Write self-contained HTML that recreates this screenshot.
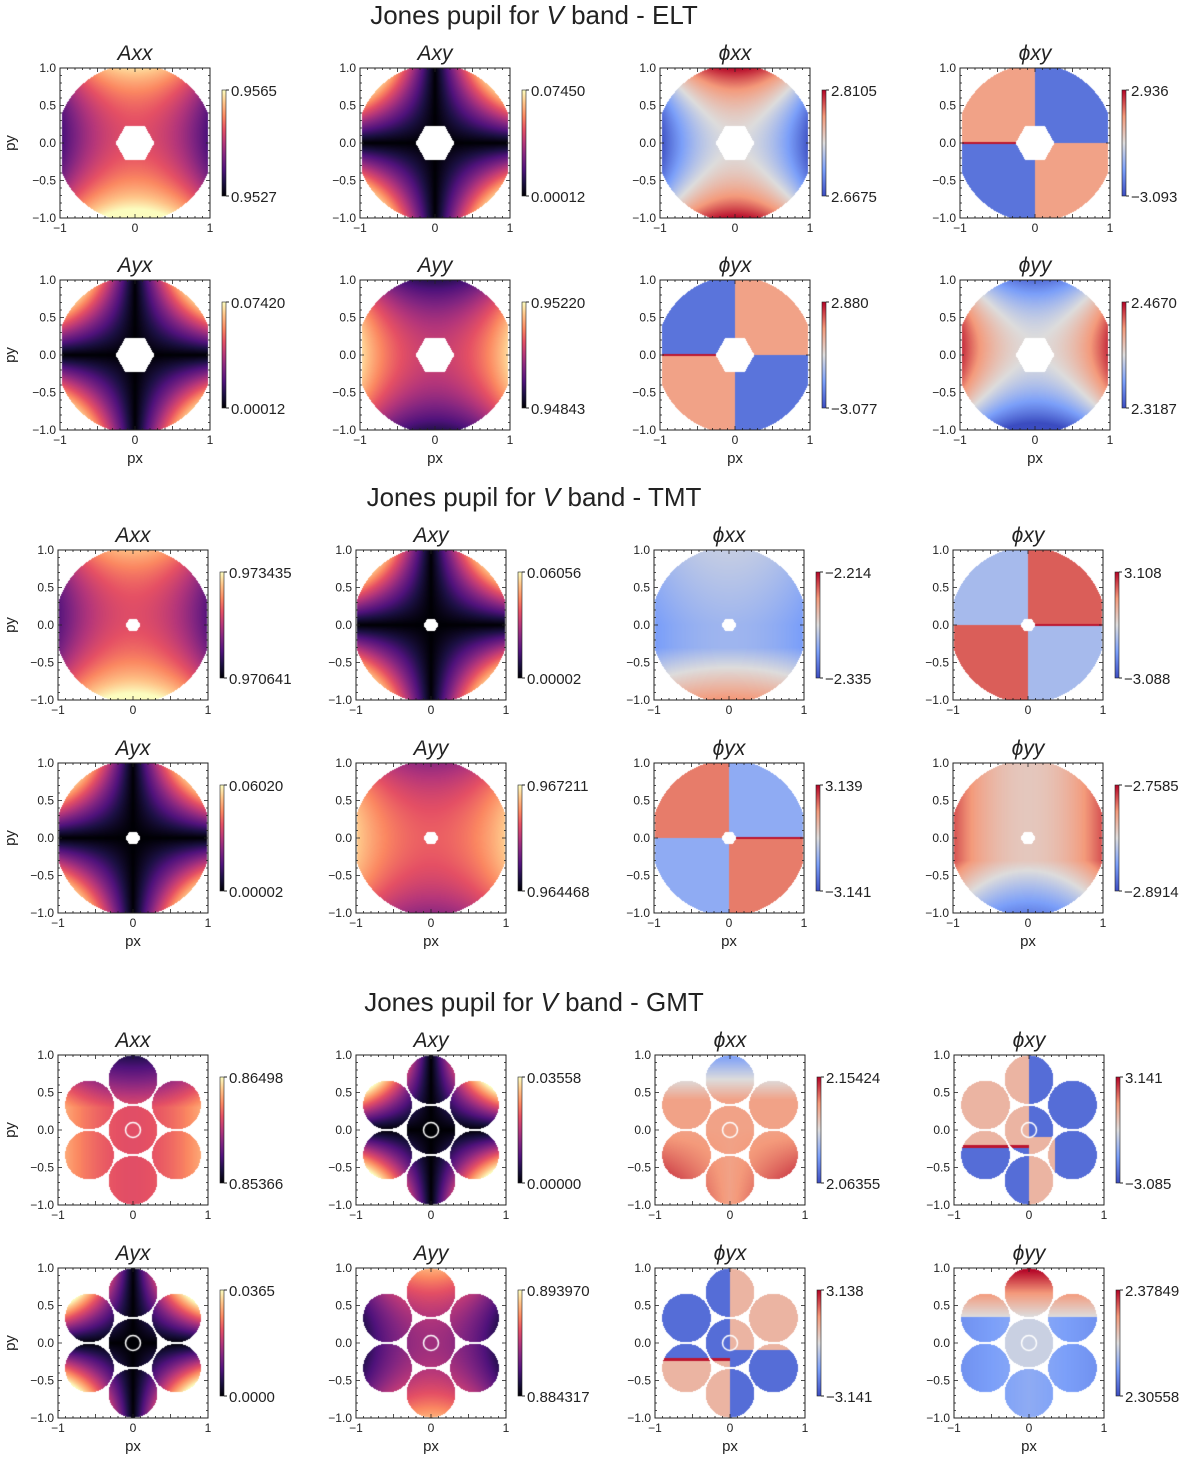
<!DOCTYPE html>
<html><head><meta charset="utf-8">
<style>
body{margin:0;background:#fff;width:1200px;height:1464px;overflow:hidden;position:relative;font-family:"Liberation Sans","DejaVu Sans",sans-serif;}
canvas{position:absolute;}
svg{position:absolute;left:0;top:0;}
</style></head>
<body>
<div id="root"></div>
<svg id="svg" width="1200" height="1464"></svg>
<script>
// ---- data ----
const sectionNames = ['ELT','TMT','GMT'];
const sectionTitleY = [24, 506, 1011];
const rowTops = [[68,280],[550,763],[1055,1268]];
const colLefts = [[60,360,660,960],[58,356,654,953],[58,356,655,954]];
const panelTitles = [['Axx','Axy','\u03D5xx','\u03D5xy'],['Ayx','Ayy','\u03D5yx','\u03D5yy']];
const cmapKind = [['magma','magma','coolwarm','coolwarm'],['magma','magma','coolwarm','coolwarm']];
const cbLabels = [
 [[['0.9565','0.9527'],['0.07450','0.00012'],['2.8105','2.6675'],['2.936','\u22123.093']],
  [['0.07420','0.00012'],['0.95220','0.94843'],['2.880','\u22123.077'],['2.4670','2.3187']]],
 [[['0.973435','0.970641'],['0.06056','0.00002'],['\u22122.214','\u22122.335'],['3.108','\u22123.088']],
  [['0.06020','0.00002'],['0.967211','0.964468'],['3.139','\u22123.141'],['\u22122.7585','\u22122.8914']]],
 [[['0.86498','0.85366'],['0.03558','0.00000'],['2.15424','2.06355'],['3.141','\u22123.085']],
  [['0.0365','0.0000'],['0.893970','0.884317'],['3.138','\u22123.141'],['2.37849','2.30558']]]
];
const yTicks = ['1.0','0.5','0.0','\u22120.5','\u22121.0'];
const yTickVals = [1,0.5,0,-0.5,-1];
const xTicks = ['\u22121','0','1'];
const xTickVals = [-1,0,1];
const S = 150;

// ---- colormaps ----
const magmaStops=[[0,'000004'],[0.13,'1c1044'],[0.25,'4f127b'],[0.38,'812581'],[0.5,'b5367a'],[0.63,'e55064'],[0.75,'fb8761'],[0.88,'fec287'],[1,'fcfdbf']];
const cwStops=[[0,'3b4cc0'],[0.25,'7b9ff9'],[0.5,'dddcdc'],[0.75,'f49a7b'],[1,'b40426']];
function hex(h){return [parseInt(h.slice(0,2),16),parseInt(h.slice(2,4),16),parseInt(h.slice(4,6),16)];}
function cmap(st,v){v=Math.max(0,Math.min(1,v));for(let i=1;i<st.length;i++){if(v<=st[i][0]){const a=st[i-1],b=st[i];const t=(v-a[0])/(b[0]-a[0]);const c1=hex(a[1]),c2=hex(b[1]);return [0,1,2].map(k=>c1[k]+(c2[k]-c1[k])*t);}}return hex(st[st.length-1][1]);}
const cl=v=>Math.max(0,Math.min(1,v));

// ---- masks ----
function hexIn(x,y,r){const ax=Math.abs(x),ay=Math.abs(y);return ay<=r*0.866 && (ax*0.866+ay*0.5)<=r*0.866;}
const gmtCenters=[[0,0]].concat([90,30,-30,-90,-150,150].map(a=>[0.67*Math.cos(a*Math.PI/180),0.67*Math.sin(a*Math.PI/180)]));
function mask(s,x,y){
 if(s===0){return Math.hypot(x,y)<=1.05&&Math.abs(x)<=0.97&&Math.abs(y)<=1.0&&!hexIn(x,y,0.26);}
 if(s===1){return Math.hypot(x,y)<=1.04&&Math.abs(x)<=0.98&&Math.abs(y)<=1.0&&!hexIn(x,y,0.1);}
 for(const c of gmtCenters){if(Math.hypot(x-c[0],y-c[1])<=0.325)return true;}return false;
}
// ---- fields ----
const F=[
 [[(x,y)=>0.62+0.4*(y*y-x*x)-0.08*y,(x,y)=>1.6*Math.abs(x*y),(x,y)=>0.5+0.5*(y*y-x*x),(x,y)=>(x<0&&Math.abs(y)<0.015)?0.97:(x*y>0?0.12:0.72)],
  [(x,y)=>1.6*Math.abs(x*y),(x,y)=>0.55+0.4*(x*x-y*y),(x,y)=>(x<0&&Math.abs(y)<0.015)?0.97:(x*y>0?0.72:0.12),(x,y)=>0.5+0.45*x*x-0.5*y*y+0.1*y]],
 [[(x,y)=>0.62+0.35*(y*y-x*x)-0.1*y,(x,y)=>1.6*Math.abs(x*y),(x,y)=>0.34-0.1*x*x+0.1*Math.max(0,y)+0.6*Math.max(0,-y-0.3),(x,y)=>(x>0&&Math.abs(y)<0.015)?0.97:(x*y>0?0.85:0.36)],
  [(x,y)=>1.6*Math.abs(x*y),(x,y)=>0.66+0.25*(x*x-y*y),(x,y)=>(x>0&&Math.abs(y)<0.015)?0.97:(x*y>0?0.3:0.8),(x,y)=>0.58+0.3*x*x-0.6*Math.max(0,-y-0.3)]],
 [[(x,y)=>0.62-0.7*Math.max(0,y-0.3)+0.25*x*x,(x,y)=>2.2*Math.abs(x*y),(x,y)=>0.72-0.8*Math.max(0,y-0.4)+0.35*Math.max(0,-y)*Math.abs(x),(x,y)=>(x<0&&Math.abs(y+0.22)<0.02)?0.97:(x<0?(y>-0.22?0.65:0.1):(y>-0.1?0.1:(x<0.35?0.65:0.1)))],
  [(x,y)=>2.2*Math.abs(x*y),(x,y)=>0.45+0.4*(y*y-x*x),(x,y)=>(x<0&&Math.abs(y+0.22)<0.02)?0.97:(x<0?(y>-0.22?0.1:0.65):(y>-0.1?0.65:0.1)),(x,y)=>y>0.35?0.5+0.8*(y-0.35):(Math.hypot(x,y)<0.33?0.45:0.3-0.1*Math.abs(x))]]
];

const svg=document.getElementById('svg');const root=document.getElementById('root');
const NS='http://www.w3.org/2000/svg';
function T(x,y,str,size,anchor,name,extra){const t=document.createElementNS(NS,'text');t.setAttribute('x',x);t.setAttribute('y',y);t.setAttribute('font-size',size);t.setAttribute('text-anchor',anchor||'start');t.setAttribute('fill','#222');if(extra)for(const k in extra)t.setAttribute(k,extra[k]);t.textContent=str;


svg.appendChild(t);return t;}
function L(x1,y1,x2,y2,w,c){const l=document.createElementNS(NS,'line');l.setAttribute('x1',x1);l.setAttribute('y1',y1);l.setAttribute('x2',x2);l.setAttribute('y2',y2);l.setAttribute('stroke',c||'#222');l.setAttribute('stroke-width',w||1);svg.appendChild(l);return l;}

for(let s=0;s<3;s++){
 const tt=document.createElementNS(NS,'text');tt.setAttribute('x',534);tt.setAttribute('y',sectionTitleY[s]);tt.setAttribute('font-size',26);tt.setAttribute('text-anchor','middle');tt.setAttribute('fill','#222');
 tt.innerHTML='Jones pupil for <tspan font-style="italic">V</tspan> band - '+sectionNames[s];
 
 
 svg.appendChild(tt);
 for(let r=0;r<2;r++)for(let c=0;c<4;c++){
  const x0=colLefts[s][c],y0=rowTops[s][r];
  const cv=document.createElement('canvas');cv.width=S;cv.height=S;cv.style.left=x0+'px';cv.style.top=y0+'px';
  
  
  root.appendChild(cv);
  const ctx=cv.getContext('2d');const im=ctx.createImageData(S,S);
  const st=cmapKind[r][c]==='magma'?magmaStops:cwStops;const f=F[s][r][c];
  for(let j=0;j<S;j++)for(let i=0;i<S;i++){const x=(i+0.5)/S*2-1,y=1-(j+0.5)/S*2;const k=(j*S+i)*4;
   if(mask(s,x,y)){const col=cmap(st,cl(f(x,y)));im.data[k]=col[0];im.data[k+1]=col[1];im.data[k+2]=col[2];im.data[k+3]=255;}}
  ctx.putImageData(im,0,0);
  if(s===2){ctx.strokeStyle='#fff';ctx.lineWidth=1.5;ctx.beginPath();ctx.arc(S/2,S/2,0.1*S/2,0,Math.PI*2);ctx.stroke();}
  const rc=document.createElementNS(NS,'rect');rc.setAttribute('x',x0);rc.setAttribute('y',y0);rc.setAttribute('width',S);rc.setAttribute('height',S);rc.setAttribute('fill','none');rc.setAttribute('stroke','#222');rc.setAttribute('stroke-width',1);
  
  
  svg.appendChild(rc);
  const sx=v=>x0+(v+1)/2*S, sy=v=>y0+(1-v)/2*S;
  for(let m=-1;m<=1.0001;m+=0.1){const len=Math.abs(Math.round(m*10)%5)===0?4:2;
   L(x0,sy(m),x0+len,sy(m),0.8);L(x0+S,sy(m),x0+S-len,sy(m),0.8);L(sx(m),y0,sx(m),y0+len,0.8);L(sx(m),y0+S,sx(m),y0+S-len,0.8);}
  yTicks.forEach((t,i)=>T(x0-4,sy(yTickVals[i])+4,t,12,'end','y-tick-label'));
  xTicks.forEach((t,i)=>T(sx(xTickVals[i]),y0+S+14,t,12,'middle','x-tick-label'));
  T(x0+S/2,y0-8,panelTitles[r][c],21,'middle','panel-title',{'font-style':'italic'});
  if(c===0)T(15,y0+S/2,'py',15,'middle','y-axis-title',{transform:'rotate(-90 15 '+(y0+S/2)+')'});
  if(r===1)T(x0+S/2,y0+S+33,'px',15,'middle','x-axis-title');
  const cbx=x0+S+12,cbt=y0+22,cbb=y0+128;
  const id='g'+s+r+c;const gr=document.createElementNS(NS,'linearGradient');gr.setAttribute('id',id);gr.setAttribute('x1',0);gr.setAttribute('y1',1);gr.setAttribute('x2',0);gr.setAttribute('y2',0);
  for(const p of st){const so=document.createElementNS(NS,'stop');so.setAttribute('offset',p[0]);so.setAttribute('stop-color','#'+p[1]);gr.appendChild(so);}
  svg.appendChild(gr);
  const cb=document.createElementNS(NS,'rect');cb.setAttribute('x',cbx);cb.setAttribute('y',cbt);cb.setAttribute('width',4);cb.setAttribute('height',cbb-cbt);cb.setAttribute('fill','url(#'+id+')');cb.setAttribute('stroke','#222');cb.setAttribute('stroke-width',0.6);
  
  
  svg.appendChild(cb);
  L(cbx+4,cbt,cbx+7,cbt,1);L(cbx+4,cbb,cbx+7,cbb,1);
  T(cbx+9,cbt+6,cbLabels[s][r][c][0],15,'start','colorbar-max-label');
  T(cbx+9,cbb+6,cbLabels[s][r][c][1],15,'start','colorbar-min-label');
 }
}
</script>
</body></html>
